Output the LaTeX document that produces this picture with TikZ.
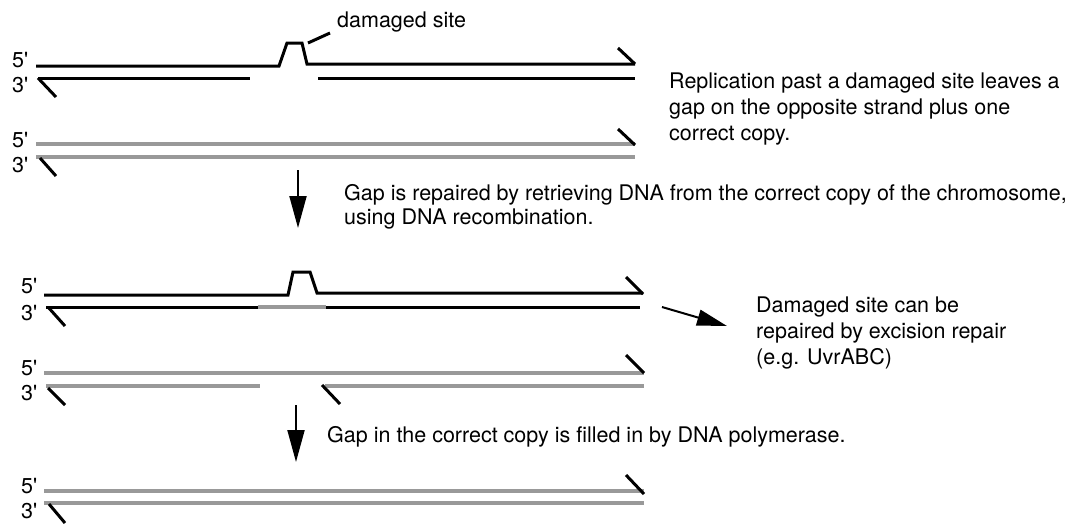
\documentclass[tikz,border=0pt]{standalone}
\usepackage{fontspec}
\setmainfont{TeX Gyre Heros}
\usetikzlibrary{arrows.meta}
\definecolor{strandgray}{RGB}{153,153,153}
\newcommand{\fp}{5\textquotesingle}
\newcommand{\tp}{3\textquotesingle}
\tikzset{
  blackstrand/.style={line width=3pt, black},
  graystrand/.style={line width=4pt, strandgray},
  endtick/.style={line width=3pt, black},
  lbl/.style={anchor=base west, inner sep=0pt, font=\fontsize{21.5}{26}\selectfont},
  bigarrow/.style={line width=2pt, -{Triangle[length=32pt,width=17pt]}},
}
\begin{document}
\begin{tikzpicture}[x=1pt,y=-1pt]
\useasboundingbox (0,0) rectangle (1067,523);
% ---------- panel 1 ----------
\node[lbl] (l1a) at (12,67) {\fp};
\node[lbl] (l1b) at (12,92) {\tp};
\draw[blackstrand] (36,66) -- (279,66) -- (287,43) -- (302,43) -- (307,64) -- (635,64);
\draw[endtick] (618,48) -- (635,64);
\draw[blackstrand] (38,78) -- (250,78);
\draw[blackstrand] (318,78) -- (635,78);
\draw[endtick] (38,78) -- (56,97);
\node[lbl] (dmg) at (337,27) {damaged site};
\coordinate (site) at (308,43);
\coordinate (dmgfoot) at (330,33);
\draw[line width=3pt] (site) -- (dmgfoot);

\node[lbl] (l2a) at (12,147) {\fp};
\node[lbl] (l2b) at (12,172) {\tp};
\draw[graystrand] (36,144) -- (635,144);
\draw[graystrand] (36,157) -- (635,157);
\draw[endtick] (618,129) -- (635,145);
\draw[endtick] (40,158) -- (56,176);

\node[lbl] (r1) at (669,88) {Replication past a damaged site leaves a};
\node[lbl] (r2) at (669,114) {gap on the opposite strand plus one};
\node[lbl] (r3) at (669,140) {correct copy.};

% ---------- arrow 1 ----------
\coordinate (a1s) at (298,170);
\coordinate (a1e) at (298,228);
\draw[bigarrow] (a1s) -- (a1e);
\node[lbl] (g1) at (344,200) {Gap is repaired by retrieving DNA from the correct copy of the chromosome,};
\node[lbl] (g2) at (344,224) {using DNA recombination.};

% ---------- panel 2 ----------
\node[lbl] (l3a) at (21,293) {\fp};
\node[lbl] (l3b) at (21,320) {\tp};
\draw[blackstrand] (44,295) -- (288,295) -- (293,272) -- (310,272) -- (317,293) -- (643,293);
\draw[endtick] (626,277) -- (643,294);
\draw[blackstrand] (46,307) -- (640,307);
\draw[graystrand] (258,307) -- (326,307);
\draw[endtick] (48,307) -- (65,326);

\node[lbl] (l4a) at (21,375) {\fp};
\node[lbl] (l4b) at (21,400) {\tp};
\draw[graystrand] (44,373) -- (644,373);
\draw[endtick] (626,355) -- (644,373);
\draw[graystrand] (46,386) -- (260,386);
\draw[graystrand] (325,386) -- (644,386);
\draw[endtick] (48,388) -- (65,405);
\draw[endtick] (322,385) -- (340,404);

% excision arrow
\coordinate (exs) at (662,307);
\coordinate (exe) at (727,326);
\draw[line width=2pt, -{Triangle[length=30pt,width=16pt]}] (exs) -- (exe);
\node[lbl] (e1) at (756,312) {Damaged site can be};
\node[lbl] (e2) at (756,338) {repaired by excision repair};
\node[lbl] (e3) at (756,364) {(e.g. UvrABC)};

% ---------- arrow 2 ----------
\coordinate (a2s) at (296,405);
\coordinate (a2e) at (296,462);
\draw[bigarrow] (a2s) -- (a2e);
\node[lbl] (g3) at (327,442) {Gap in the correct copy is filled in by DNA polymerase.};

% ---------- panel 3 ----------
\node[lbl] (l5a) at (21,493) {\fp};
\node[lbl] (l5b) at (21,518) {\tp};
\draw[graystrand] (44,491) -- (644,491);
\draw[graystrand] (44,503) -- (644,503);
\draw[endtick] (626,475) -- (644,494);
\draw[endtick] (49,504) -- (65,523);
\end{tikzpicture}
\end{document}
